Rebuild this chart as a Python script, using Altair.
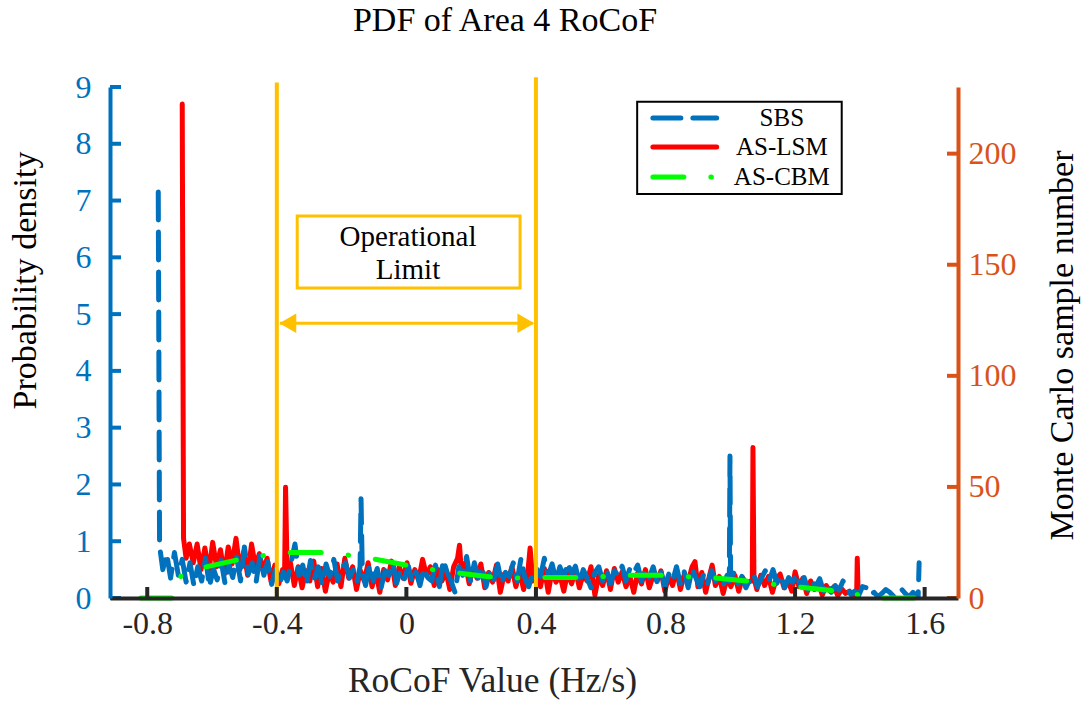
import altair as alt
import pandas as pd

# ---- series: SBS (dashed blue) ----
sbs_x = [-0.766, -0.762, -0.752, -0.740, -0.728, -0.716, -0.704, -0.692, -0.680, -0.668, -0.656, -0.644,
         -0.632, -0.620, -0.608, -0.596, -0.584, -0.572, -0.560, -0.548, -0.536, -0.524,
         -0.512, -0.500, -0.488, -0.476, -0.464, -0.452, -0.440, -0.428, -0.416, -0.404,
         -0.392, -0.380, -0.368, -0.356, -0.344, -0.332, -0.320, -0.308, -0.296, -0.284,
         -0.272, -0.260, -0.248, -0.236, -0.224, -0.212, -0.200, -0.188, -0.176, -0.164,
         -0.152, -0.143, -0.140, -0.136, -0.126, -0.114, -0.102, -0.090, -0.078, -0.066,
         -0.054, -0.042, -0.030, -0.018, -0.006, 0.006, 0.018, 0.030, 0.042, 0.054,
         0.066, 0.078, 0.090, 0.102, 0.114, 0.126, 0.138, 0.150, 0.162, 0.174,
         0.186, 0.198, 0.210, 0.222, 0.234, 0.246, 0.258, 0.270, 0.282, 0.294,
         0.306, 0.318, 0.330, 0.342, 0.354, 0.366, 0.378, 0.390, 0.402, 0.414,
         0.426, 0.438, 0.450, 0.462, 0.474, 0.486, 0.498, 0.510, 0.522, 0.534,
         0.546, 0.558, 0.570, 0.582, 0.594, 0.606, 0.618, 0.630, 0.642, 0.654,
         0.666, 0.678, 0.690, 0.702, 0.714, 0.726, 0.738, 0.750, 0.762, 0.774,
         0.786, 0.798, 0.810, 0.822, 0.834, 0.846, 0.858, 0.870, 0.882, 0.894,
         0.906, 0.918, 0.930, 0.942, 0.954, 0.966, 0.978, 0.990, 0.997, 0.999,
         1.001, 1.012, 1.024, 1.036, 1.048, 1.060, 1.072, 1.084, 1.096, 1.108,
         1.120, 1.132, 1.144, 1.156, 1.168, 1.180, 1.192, 1.204, 1.216, 1.228,
         1.240, 1.252, 1.264, 1.276, 1.288, 1.300, 1.312, 1.324, 1.336, 1.348,
         1.360, 1.372, 1.384, 1.396, 1.408, 1.420, 1.432, 1.444, 1.456, 1.468,
         1.480, 1.492, 1.504, 1.516, 1.528, 1.540, 1.552, 1.564, 1.574, 1.580,
         1.583]
sbs_y = [7.15, 0.92, 0.50, 0.78, 0.35, 0.80, 0.40, 0.68, 0.28, 0.62, 0.22, 0.55,
         0.30, 0.70, 0.20, 0.52, 0.32, 0.66, 0.26, 0.58, 0.36, 0.72,
         0.30, 0.90, 0.42, 0.62, 0.28, 0.74, 0.40, 0.64, 0.24, 0.50,
         0.22, 0.46, 0.30, 0.62, 0.95, 0.40, 0.58, 0.25, 0.66, 0.34,
         0.55, 0.24, 0.60, 0.38, 0.68, 0.30, 0.52, 0.62, 0.35, 0.50,
         0.30, 0.55, 1.75, 0.45, 0.22, 0.58, 0.30, 0.52, 0.18, 0.48,
         0.40, 0.62, 0.26, 0.50, 0.34, 0.56, 0.28, 0.46, 0.22, 0.52,
         0.36, 0.30, 0.58, 0.20, 0.67, 0.45, 0.30, 0.10, 0.55, 0.40,
         0.73, 0.30, 0.62, 0.35, 0.55, 0.20, 0.48, 0.32, 0.60, 0.26,
         0.45, 0.38, 0.62, 0.30, 0.70, 0.35, 0.20, 0.45, 0.52, 0.38,
         0.70, 0.40, 0.60, 0.30, 0.55, 0.36, 0.62, 0.42, 0.56, 0.26,
         0.50, 0.35, 0.18, 0.45, 0.55, 0.30, 0.50, 0.25, 0.48, 0.40,
         0.56, 0.30, 0.52, 0.44, 0.58, 0.30, 0.50, 0.36, 0.55, 0.28,
         0.46, 0.20, 0.42, 0.30, 0.55, 0.25, 0.46, 0.18, 0.52, 0.35,
         0.20, 0.42, 0.25, 0.48, 0.30, 0.36, 0.22, 0.40, 0.30, 2.50,
         0.35, 0.45, 0.25, 0.38, 0.18, 0.32, 0.42, 0.20, 0.35, 0.48,
         0.30, 0.50, 0.26, 0.40, 0.18, 0.36, 0.28, 0.42, 0.22, 0.36,
         0.14, 0.30, 0.20, 0.34, 0.12, 0.26, 0.10, 0.22, 0.14, 0.30,
         0.18, 0.06, 0.12, 0.04, 0.20, 0.18, 0.06, 0.10, 0.02, 0.08,
         0.15, 0.10, 0.03, 0.12, 0.16, 0.08, 0.02, 0.10, 0.04, 0.02,
         0.62]

# ---- series: AS-LSM (solid red) ----
lsm_x = [-0.692, -0.688, -0.680, -0.670, -0.658, -0.646, -0.634, -0.622, -0.610, -0.598, -0.586, -0.574,
         -0.562, -0.550, -0.538, -0.526, -0.514, -0.502, -0.490, -0.478, -0.466, -0.454,
         -0.442, -0.430, -0.418, -0.406, -0.394, -0.382, -0.376, -0.373, -0.368, -0.358,
         -0.346, -0.334, -0.322, -0.310, -0.298, -0.286, -0.274, -0.262, -0.250, -0.238,
         -0.226, -0.214, -0.202, -0.190, -0.178, -0.166, -0.154, -0.142, -0.130, -0.118,
         -0.106, -0.094, -0.082, -0.070, -0.058, -0.046, -0.034, -0.022, -0.010, 0.002,
         0.014, 0.026, 0.038, 0.050, 0.062, 0.074, 0.086, 0.098, 0.110, 0.122,
         0.134, 0.146, 0.158, 0.164, 0.170, 0.182, 0.194, 0.206, 0.218, 0.230,
         0.242, 0.254, 0.266, 0.278, 0.290, 0.302, 0.314, 0.326, 0.338, 0.350,
         0.362, 0.374, 0.382, 0.390, 0.402, 0.414, 0.426, 0.438, 0.450, 0.462,
         0.474, 0.486, 0.498, 0.510, 0.522, 0.534, 0.546, 0.558, 0.570, 0.582,
         0.594, 0.606, 0.618, 0.630, 0.642, 0.654, 0.666, 0.678, 0.690, 0.702,
         0.714, 0.726, 0.738, 0.750, 0.762, 0.774, 0.786, 0.798, 0.810, 0.822,
         0.834, 0.846, 0.858, 0.870, 0.882, 0.891, 0.900, 0.912, 0.924, 0.936,
         0.944, 0.954, 0.966, 0.978, 0.990, 1.002, 1.014, 1.026, 1.038, 1.050,
         1.062, 1.068, 1.070, 1.073, 1.082, 1.094, 1.106, 1.118, 1.130, 1.142,
         1.154, 1.166, 1.178, 1.190, 1.200, 1.212, 1.224, 1.236, 1.248, 1.260,
         1.272, 1.284, 1.296, 1.308, 1.320, 1.332, 1.344, 1.356, 1.368, 1.380,
         1.390, 1.392, 1.395]
lsm_y = [8.70, 1.05, 0.70, 0.95, 0.62, 0.95, 0.50, 0.88, 0.45, 0.98, 0.55, 0.85,
         0.42, 0.90, 0.60, 1.05, 0.50, 0.82, 0.40, 0.95, 0.55, 0.78,
         0.48, 0.70, 0.30, 0.58, 0.25, 0.50, 0.40, 1.95, 0.45, 0.62,
         0.22, 0.55, 0.18, 0.48, 0.30, 0.65, 0.20, 0.52, 0.12, 0.45,
         0.28, 0.60, 0.20, 0.70, 0.35, 0.55, 0.15, 0.48, 0.30, 0.62,
         0.20, 0.45, 0.10, 0.50, 0.32, 0.65, 0.22, 0.55, 0.35, 0.62,
         0.26, 0.50, 0.32, 0.68, 0.40, 0.55, 0.22, 0.50, 0.30, 0.48,
         0.15, 0.55, 0.70, 0.93, 0.45, 0.62, 0.25, 0.52, 0.35, 0.60,
         0.18, 0.45, 0.28, 0.58, 0.10, 0.42, 0.30, 0.55, 0.20, 0.46,
         0.15, 0.40, 0.88, 0.30, 0.45, 0.20, 0.52, 0.10, 0.48, 0.28,
         0.40, 0.12, 0.45, 0.25, 0.50, 0.18, 0.42, 0.30, 0.55, 0.05,
         0.40, 0.22, 0.48, 0.15, 0.52, 0.28, 0.46, 0.20, 0.38, 0.10,
         0.44, 0.25, 0.50, 0.18, 0.40, 0.30, 0.48, 0.12, 0.38, 0.22,
         0.50, 0.15, 0.42, 0.28, 0.55, 0.64, 0.20, 0.45, 0.10, 0.40,
         0.58, 0.22, 0.38, 0.08, 0.35, 0.20, 0.40, 0.12, 0.36, 0.25,
         0.30, 0.30, 2.65, 0.35, 0.15, 0.40, 0.22, 0.38, 0.10, 0.34,
         0.42, 0.18, 0.30, 0.12, 0.46, 0.20, 0.35, 0.08, 0.30, 0.15,
         0.26, 0.05, 0.22, 0.12, 0.20, 0.04, 0.16, 0.08, 0.12, 0.04,
         0.05, 0.70, 0.02]

# ---- series: AS-CBM (green dash-dot) ----
cbm_x = [-0.820, -0.708, -0.696, -0.633, -0.523, -0.449, -0.374, -0.263, -0.186, -0.112,
         0.000, 0.075, 0.150, 0.256, 0.336, 0.413, 0.520, 0.598, 0.675, 0.783,
         0.863, 0.938, 1.051, 1.123, 1.200, 1.313, 1.387, 1.400, 1.580]
cbm_y = [0.00, 0.00, 0.39, 0.53, 0.67, 0.74, 0.80, 0.80, 0.76, 0.70,
         0.58, 0.505, 0.445, 0.375, 0.35, 0.36, 0.36, 0.375, 0.40, 0.40,
         0.375, 0.36, 0.30, 0.246, 0.20, 0.13, 0.10, 0.00, 0.00]

series_names = ["SBS", "AS-LSM", "AS-CBM"]
series_colors = ["#0072BD", "#FF0000", "#00FF00"]
series_dashes = [[28, 12], [1, 0], [31, 27, 0.5, 27]]

# operational limit band
limit_x = [-0.4, 0.4]
limit_top = [9.08, 9.17]

# axis ticks
x_ticks = [-0.8, -0.4, 0, 0.4, 0.8, 1.2, 1.6]
left_ticks = [0, 1, 2, 3, 4, 5, 6, 7, 8, 9]
right_ticks = [0, 50, 100, 150, 200]

# legend box placement (in data units of the left axes)
legend_rows_y = [8.454, 7.943, 7.415]
legend_sym_x = [0.761, 0.958]
legend_text_x = 1.159
legend_box = {"x": [0.7125], "x_end": [1.344], "y": [7.115], "y_end": [8.741]}

W, H = 848, 511
SERIF = "Liberation Serif"
INK = "#262626"
BLUE = "#0072BD"
ORANGE = "#D95319"
YELLOW = "#FFC000"

frames = []
for name, xs, ys in [("SBS", sbs_x, sbs_y), ("AS-LSM", lsm_x, lsm_y), ("AS-CBM", cbm_x, cbm_y)]:
    frames.append(pd.DataFrame({"x": xs, "y": ys, "series": name, "order": range(len(xs))}))
lines_df = pd.concat(frames, ignore_index=True)

x_scale = alt.Scale(domain=[-0.915, 1.703], nice=False, zero=False)
y_scale = alt.Scale(domain=[0, 9], nice=False)
r_scale = alt.Scale(domain=[0, 230], nice=False)

x_axis = alt.Axis(values=x_ticks, labelExpr="'' + datum.value", ticks=False, grid=False,
                  domainColor=INK, domainWidth=4, labelFont=SERIF, labelFontSize=32,
                  labelColor=INK, labelPadding=10, title="RoCoF Value (Hz/s)",
                  titleFont=SERIF, titleFontSize=35.5, titleFontWeight="normal",
                  titleColor=INK, titleX=382, titleY=93, titleBaseline="alphabetic",
                  titleAlign="center", zindex=1)
y_axis = alt.Axis(values=left_ticks, ticks=False, grid=False, domainColor=BLUE,
                  domainWidth=4, labelFont=SERIF, labelFontSize=32, labelColor=BLUE,
                  labelPadding=19, title="Probability density", titleFont=SERIF,
                  titleFontSize=34, titleFontWeight="normal", titleColor="black",
                  titleAngle=270, titleX=-85, titleY=193, titleBaseline="middle",
                  titleAlign="center", zindex=1)
r_axis = alt.Axis(orient="right", values=right_ticks, ticks=False, grid=False,
                  domainColor=ORANGE, domainWidth=4, labelFont=SERIF, labelFontSize=32,
                  labelColor=ORANGE, labelPadding=10, title="Monte Carlo sample number",
                  titleFont=SERIF, titleFontSize=34, titleFontWeight="normal",
                  titleColor="black", titleAngle=270, titleX=104, titleY=258,
                  titleBaseline="middle", titleAlign="center", zindex=1)

X = alt.X("x:Q", scale=x_scale, axis=x_axis)
Y = alt.Y("y:Q", scale=y_scale, axis=y_axis)

color_enc = alt.Color("series:N", scale=alt.Scale(domain=series_names, range=series_colors),
                      legend=None)
dash_enc = alt.StrokeDash("series:N", scale=alt.Scale(domain=series_names, range=series_dashes),
                          legend=None)


def series_layer(name):
    return alt.Chart(lines_df).transform_filter(alt.datum.series == name).mark_line(
        strokeWidth=5, strokeCap="round", strokeJoin="round"
    ).encode(x=X, y=Y, color=color_enc, strokeDash=dash_enc, order="order:Q")


# vertical limit lines
limits_df = pd.DataFrame({"x": limit_x, "y": [0, 0], "top": limit_top})
limit_lines = alt.Chart(limits_df).mark_rule(color=YELLOW, strokeWidth=4).encode(
    x=X, y=Y, y2="top:Q")

# annotation box and label
box_df = pd.DataFrame({"x": [-0.337], "x_end": [0.351], "y": [5.46], "y_end": [6.73]})
box = alt.Chart(box_df).mark_rect(fill="white", stroke=YELLOW, strokeWidth=3).encode(
    x=X, x2="x_end:Q", y=Y, y2="y_end:Q")
label_df = pd.DataFrame({"x": [0.005, 0.005], "y": [6.36, 5.77], "t": ["Operational", "Limit"]})
label = alt.Chart(label_df).mark_text(font=SERIF, fontSize=29, color="black",
                                      baseline="middle", align="center").encode(
    x=X, y=Y, text="t:N")

# double-headed arrow between the limits
arrow_df = pd.DataFrame({"x": [-0.39], "x_end": [0.39], "y": [4.84]})
arrow = alt.Chart(arrow_df).mark_rule(color=YELLOW, strokeWidth=3).encode(
    x=X, x2="x_end:Q", y=Y)
heads_df = pd.DataFrame({"x": [-0.366, 0.369], "y": [4.84, 4.84],
                         "shape": ["triangle-left", "triangle-right"]})
heads = alt.Chart(heads_df).mark_point(filled=True, color=YELLOW, opacity=1, size=380).encode(
    x=X, y=Y, shape=alt.Shape("shape:N", scale=None, legend=None))

# legend: framed box with a line sample and a name for each series
leg_box = alt.Chart(pd.DataFrame(legend_box)).mark_rect(
    fill="white", stroke="black", strokeWidth=2).encode(x=X, x2="x_end:Q", y=Y, y2="y_end:Q")
leg_df = pd.DataFrame({"series": series_names, "y": legend_rows_y,
                       "x": [legend_sym_x[0]] * 3, "x_end": [legend_sym_x[1]] * 3,
                       "tx": [legend_text_x] * 3})
leg_lines = alt.Chart(leg_df).mark_rule(strokeWidth=5, strokeCap="round").encode(
    x=X, x2="x_end:Q", y=Y, color=color_enc, strokeDash=dash_enc)
leg_text = alt.Chart(leg_df).mark_text(font=SERIF, fontSize=25, color="black",
                                       align="center", baseline="middle").encode(
    x=alt.X("tx:Q", scale=x_scale, axis=x_axis), y=Y, text="series:N")

# inward tick marks
xt = alt.Chart(pd.DataFrame({"x": x_ticks})).mark_rule(color=INK, strokeWidth=4).encode(
    x=X, y=alt.value(H), y2=alt.value(H - 11))
yt = alt.Chart(pd.DataFrame({"y": left_ticks})).mark_rule(color=BLUE, strokeWidth=4).encode(
    y=Y, x=alt.value(0), x2=alt.value(11))

left = alt.layer(series_layer("AS-LSM"), series_layer("SBS"), series_layer("AS-CBM"),
                 limit_lines, box, label, arrow, heads, leg_box, leg_lines, leg_text, xt, yt)

right = alt.Chart(pd.DataFrame({"r": right_ticks})).mark_rule(color=ORANGE, strokeWidth=4).encode(
    y=alt.Y("r:Q", scale=r_scale, axis=r_axis), x=alt.value(W), x2=alt.value(W - 11))

chart = alt.layer(left, right).resolve_scale(y="independent").properties(
    width=W, height=H,
    title=alt.TitleParams("PDF of Area 4 RoCoF", font=SERIF, fontSize=34,
                          fontWeight="normal", color="black", anchor="middle",
                          dx=-29, offset=33),
    autosize=alt.AutoSizeParams(type="none"),
    padding={"left": 110, "top": 87, "right": 128, "bottom": 103},
).configure_view(stroke=None)

chart.save("out.html", embed_options={"renderer": "svg", "actions": False})
